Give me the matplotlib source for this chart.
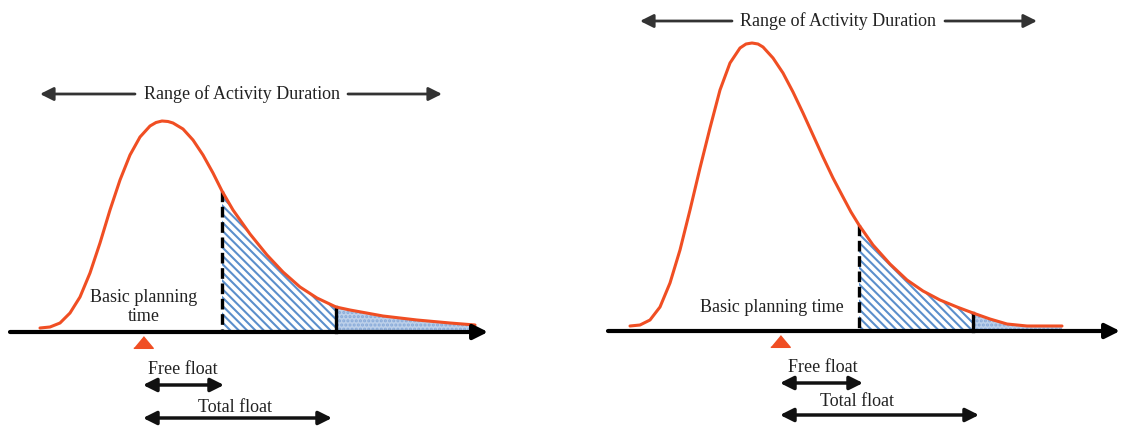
import numpy as np
import matplotlib.pyplot as plt

# Curve outlines (pixel coordinates, y grows downward)
left_x = [40, 50, 60, 70, 80, 90, 100, 110, 120, 130, 140, 150, 156, 162, 168,
          173, 183, 193, 203, 213, 222, 233, 250, 267, 283, 300, 317, 336, 350,
          383, 417, 450, 475]
left_y = [328, 327, 323, 313, 297, 273, 243, 210, 180, 155, 137, 126, 122.5, 121, 121.5,
          123, 129, 140, 155, 173, 191, 210, 234, 255, 272, 287, 298, 307, 310,
          316, 320, 323, 325]

right_x = [630, 640, 650, 660, 670, 680, 690, 700, 710, 720, 730, 740, 746, 752,
           758, 763, 773, 783, 793, 803, 813, 823, 833, 843, 851, 859, 873, 890,
           907, 923, 940, 957, 973, 990, 1007, 1027, 1062]
right_y = [326, 325, 320, 307, 283, 250, 210, 168, 128, 90, 63, 48, 44, 43,
           44, 47, 58, 73, 92, 113, 135, 157, 178, 197, 212, 225, 245, 264,
           280, 291, 300, 307, 313, 319, 324, 326, 326]

# Key positions on the time axis for each panel
panels = [
    dict(x=left_x, y=left_y, axis_y=332, axis_from=10, axis_to=488,
         planning=143, free_end=222, total_end=336, ff_to=224, tf_to=332,
         range_y=94, range_from=40, range_to=442, range_text=242,
         range_gap=(135, 348),
         plan_label='Basic planning\ntime', plan_xy=(144, 307),
         ff_label_xy=(183, 370), ff_y=385, tf_label_xy=(235, 407), tf_y=418),
    dict(x=right_x, y=right_y, axis_y=331, axis_from=608, axis_to=1120,
         planning=780, free_end=859, total_end=973, ff_to=863, tf_to=979,
         range_y=21, range_from=640, range_to=1037, range_text=838,
         range_gap=(732, 945),
         plan_label='Basic planning time', plan_xy=(772, 307),
         ff_label_xy=(823, 367), ff_y=383, tf_label_xy=(857, 402), tf_y=415),
]

red = '#F04E23'
blue = '#5B8FCC'
plt.rcParams['font.family'] = ['Liberation Serif', 'DejaVu Serif']
plt.rcParams['hatch.linewidth'] = 1.5

fig = plt.figure(figsize=(11.22, 4.26), dpi=100)
ax = fig.add_axes([0, 0, 1, 1])
ax.set_xlim(0, 1122)
ax.set_ylim(426, 0)
ax.axis('off')

tri = [(-1, -0.6), (1, -0.6), (0, 0.6)]
fs = 13

for p in panels:
    x = np.array(p['x'])
    y = np.array(p['y'])
    base = p['axis_y'] - 2

    # shaded areas under the tail
    m1 = (x >= p['free_end']) & (x <= p['total_end'])
    ax.fill_between(x[m1], y[m1], base, facecolor='white', edgecolor=blue,
                    hatch='\\' * 4, linewidth=0, zorder=1)
    m2 = x >= p['total_end']
    ax.fill_between(x[m2], y[m2], base, facecolor='#BCD0EA', edgecolor='#86A9D8',
                    hatch='....', linewidth=0, zorder=1)

    # dashed boundaries
    ax.plot([p['free_end']] * 2, [y[x == p['free_end']][0], p['axis_y']],
            color='black', lw=2.4, dashes=(3.2, 1.4), zorder=3)
    ax.plot([p['total_end']] * 2, [y[x == p['total_end']][0], p['axis_y']],
            color='black', lw=2.4, zorder=3)

    ax.plot(x, y, color=red, lw=2.2, solid_capstyle='round',
            solid_joinstyle='round', zorder=4)

    # time axis
    ax.annotate('', xy=(p['axis_to'], p['axis_y']), xytext=(p['axis_from'], p['axis_y']),
                arrowprops=dict(arrowstyle='-|>', lw=3, color='black',
                                mutation_scale=22, shrinkA=0, shrinkB=0), zorder=5)

    # range arrows
    ax.annotate('', xy=(p['range_from'], p['range_y']), xytext=(p['range_gap'][0], p['range_y']),
                arrowprops=dict(arrowstyle='-|>', lw=2, color='#333333',
                                mutation_scale=20, shrinkA=0, shrinkB=0))
    ax.annotate('', xy=(p['range_to'], p['range_y']), xytext=(p['range_gap'][1], p['range_y']),
                arrowprops=dict(arrowstyle='-|>', lw=2, color='#333333',
                                mutation_scale=20, shrinkA=0, shrinkB=0))
    ax.text(p['range_text'], p['range_y'], 'Range of Activity Duration',
            ha='center', va='center', fontsize=fs, color='#222222')

    ax.text(p['plan_xy'][0], p['plan_xy'][1], p['plan_label'], ha='center',
            va='center', fontsize=fs, linespacing=1.2, color='#222222')

    ax.plot(p['planning'], p['axis_y'] + 10, marker=tri, ms=14, color=red,
            linestyle='none', zorder=6)

    # floats
    ax.text(*p['ff_label_xy'], 'Free float', ha='center', va='center',
            fontsize=fs, color='#222222')
    ax.annotate('', xy=(p['ff_to'], p['ff_y']), xytext=(p['planning'], p['ff_y']),
                arrowprops=dict(arrowstyle='<|-|>', lw=2.5, color='#111111',
                                mutation_scale=20, shrinkA=0, shrinkB=0))
    ax.text(*p['tf_label_xy'], 'Total float', ha='center', va='center',
            fontsize=fs, color='#222222')
    ax.annotate('', xy=(p['tf_to'], p['tf_y']), xytext=(p['planning'], p['tf_y']),
                arrowprops=dict(arrowstyle='<|-|>', lw=2.5, color='#111111',
                                mutation_scale=20, shrinkA=0, shrinkB=0))

fig.savefig('out.png', dpi=100)
